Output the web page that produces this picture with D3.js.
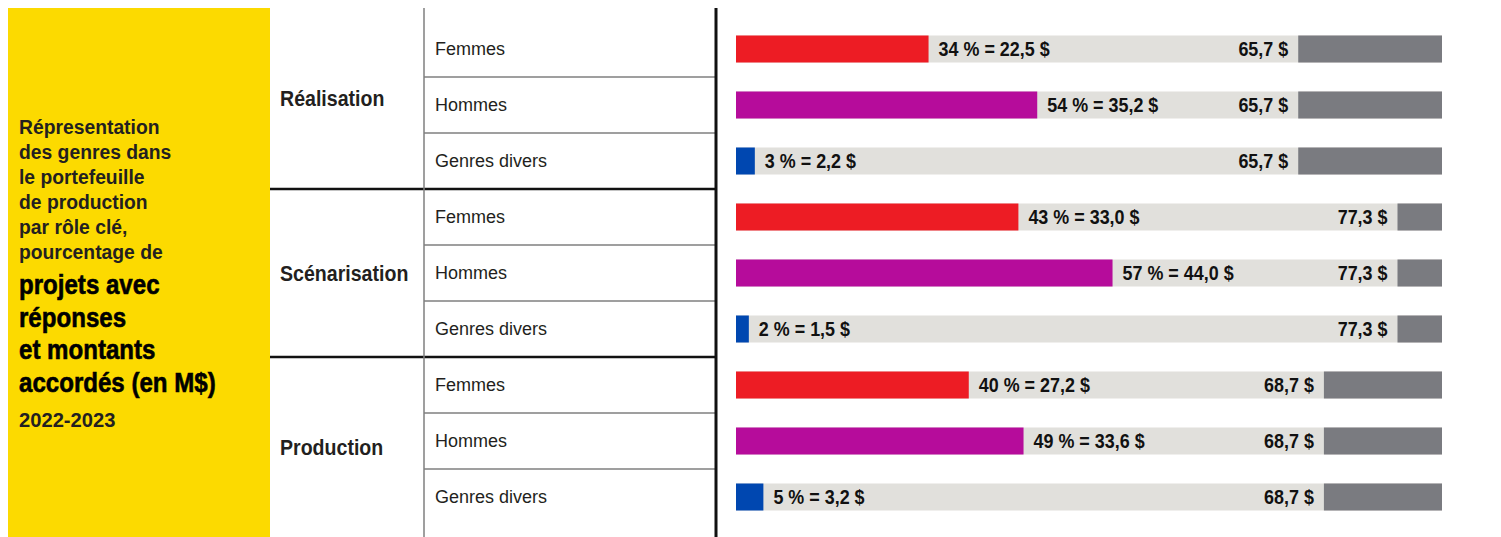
<!DOCTYPE html>
<html>
<head>
<meta charset="utf-8">
<script src="https://cdn.jsdelivr.net/npm/d3@7"></script>
<style>
  body { margin: 0; background: #fff; }
  .cond { font-family: "Liberation Sans", Arial, sans-serif; font-weight: bold; }
  .reg { font-family: "Liberation Sans", Arial, sans-serif; }
</style>
</head>
<body>
<svg width="1501" height="537"></svg>
<script>
// data
const roles = ['Réalisation', 'Scénarisation', 'Production'];
const genders = ['Femmes', 'Hommes', 'Genres divers'];
const totals = [65.7, 77.3, 68.7];
const percents = [[34, 54, 3], [43, 57, 2], [40, 49, 5]];
const amounts = [[22.5, 35.2, 2.2], [33.0, 44.0, 1.5], [27.2, 33.6, 3.2]];
const xMax = 82.5;

const titleSmall = ['Répresentation', 'des genres dans', 'le portefeuille', 'de production', 'par rôle clé,', 'pourcentage de'];
const titleBig = ['projets avec', 'réponses', 'et montants', 'accordés (en M$)'];
const period = '2022-2023';

const genderColor = d3.scaleOrdinal()
    .domain(genders)
    .range(['#ed1c24', '#b60c9b', '#0047b0']);

const fr = d3.formatLocale({decimal: ',', thousands: ' ', grouping: [3], currency: ['', ' $']});
const fmt = fr.format('.1f');

// condensed look: squeeze bold text horizontally
function squeeze(x, y, s) {
    return 'translate(' + x + ',' + y + ') scale(' + s + ',1)';
}

// flatten into rows
var rows = [];
roles.forEach((r, i) => {
    genders.forEach((g, j) => {
        rows.push({role: r, gender: g, total: totals[i], pct: percents[i][j], amount: amounts[i][j]});
    });
});

var svg = d3.select('svg');

// yellow title panel
svg.append('rect')
    .attr('x', 8).attr('y', 8)
    .attr('width', 262).attr('height', 529)
    .attr('fill', '#fcda00');

svg.selectAll('text.small')
    .data(titleSmall)
    .enter()
    .append('text')
    .attr('class', 'small cond')
    .attr('transform', (d, i) => squeeze(19, 134 + i * 25, 0.92))
    .attr('font-size', 21)
    .attr('fill', '#231f20')
    .text(d => d);
svg.selectAll('text.big')
    .data(titleBig)
    .enter()
    .append('text')
    .attr('class', 'big cond')
    .attr('transform', (d, i) => squeeze(19, 294 + i * 32.5, 0.86))
    .attr('font-size', 28)
    .attr('fill', '#000')
    .attr('stroke', '#000')
    .attr('stroke-width', 0.6)
    .text(d => d);
svg.append('text')
    .attr('class', 'cond')
    .attr('transform', squeeze(19, 427, 0.96))
    .attr('font-size', 21)
    .attr('fill', '#231f20')
    .text(period);

// scales
var y = d3.scaleBand()
    .domain(d3.range(rows.length))
    .range([21, 525]);

var x = d3.scaleLinear()
    .domain([0, xMax])
    .range([736, 1442]);

var barH = 27;
var yTop = 8, yBottom = 537;

// grid lines
var grid = svg.append('g');
d3.range(1, rows.length).forEach(k => {
    var thick = k % genders.length === 0;
    grid.append('line')
        .attr('x1', thick ? 270 : 424).attr('x2', 716)
        .attr('y1', y(k)).attr('y2', y(k))
        .attr('stroke', thick ? '#111' : '#7f7f7f')
        .attr('stroke-width', thick ? 2.5 : 1.5);
});
grid.append('line')
    .attr('x1', 424).attr('x2', 424)
    .attr('y1', yTop).attr('y2', yBottom)
    .attr('stroke', '#7f7f7f').attr('stroke-width', 1.5);
grid.append('line')
    .attr('x1', 716).attr('x2', 716)
    .attr('y1', yTop).attr('y2', yBottom)
    .attr('stroke', '#111').attr('stroke-width', 3);

// role labels, centred in their block (outer blocks run to the line ends)
function roleMid(i) {
    var n = genders.length;
    var a = i === 0 ? yTop : y(i * n);
    var b = i === roles.length - 1 ? yBottom : y((i + 1) * n);
    return (a + b) / 2;
}
svg.selectAll('text.role')
    .data(roles)
    .enter()
    .append('text')
    .attr('class', 'role cond')
    .attr('transform', (d, i) => squeeze(280, roleMid(i), 0.89))
    .attr('dy', '0.36em')
    .attr('font-size', 22)
    .attr('fill', '#231f20')
    .text(d => d);

// row groups
var rowG = svg.selectAll('g.row')
    .data(rows)
    .enter()
    .append('g')
    .attr('class', 'row')
    .attr('transform', (d, i) => 'translate(0,' + (y(i) + y.bandwidth() / 2) + ')');

rowG.append('text')
    .attr('class', 'reg')
    .attr('x', 435)
    .attr('dy', '0.36em')
    .attr('font-size', 18)
    .attr('fill', '#231f20')
    .text(d => d.gender);

// track
rowG.append('rect')
    .attr('x', x(0))
    .attr('y', -barH / 2)
    .attr('width', x(xMax) - x(0))
    .attr('height', barH)
    .attr('fill', '#e1e0dc');

// remainder beyond total
rowG.append('rect')
    .attr('x', d => x(d.total))
    .attr('y', -barH / 2)
    .attr('width', d => x(xMax) - x(d.total))
    .attr('height', barH)
    .attr('fill', '#7a7b80');

// gender bar
rowG.append('rect')
    .attr('x', x(0))
    .attr('y', -barH / 2)
    .attr('width', d => x(d.amount) - x(0))
    .attr('height', barH)
    .attr('fill', d => genderColor(d.gender));

rowG.append('text')
    .attr('class', 'cond')
    .attr('transform', d => squeeze(x(d.amount) + 10, 0, 0.92))
    .attr('dy', '0.36em')
    .attr('font-size', 19.5)
    .attr('fill', '#111')
    .text(d => d.pct + ' % = ' + fmt(d.amount) + ' $');

rowG.append('text')
    .attr('class', 'cond')
    .attr('transform', d => squeeze(x(d.total) - 10, 0, 0.92))
    .attr('dy', '0.36em')
    .attr('text-anchor', 'end')
    .attr('font-size', 19.5)
    .attr('fill', '#111')
    .text(d => fmt(d.total) + ' $');
</script>
</body>
</html>
